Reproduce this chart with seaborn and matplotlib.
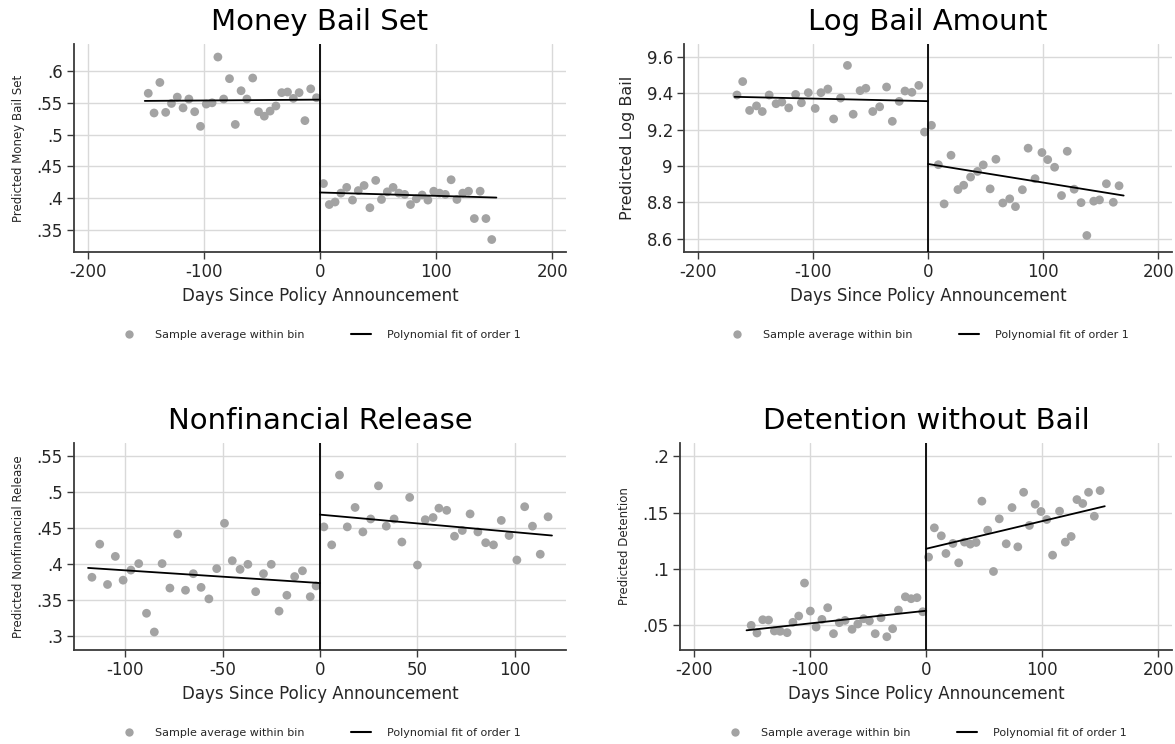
import numpy as np
import pandas as pd
import matplotlib
matplotlib.use("Agg")
import matplotlib.pyplot as plt
from matplotlib.lines import Line2D
import seaborn as sns

sns.set_theme(style="white")
plt.rcParams['font.family'] = ['DejaVu Sans']

# ---------------- data ----------------
# Panel 1: Money Bail Set
mb_x_left = [-148, -143, -138, -133, -128, -123, -118, -113, -108, -103, -98, -93, -88, -83, -78,
             -73, -68, -63, -58, -53, -48, -43, -38, -33, -28, -23, -18, -13, -8, -3]
mb_y_left = [.565, .534, .582, .535, .549, .559, .542, .556, .536, .513, .548, .550, .622, .556, .588,
             .516, .569, .556, .589, .536, .529, .537, .545, .566, .567, .557, .566, .522, .572, .558]
mb_x_right = [3, 8, 13, 18, 23, 28, 33, 38, 43, 48, 53, 58, 63, 68, 73,
              78, 83, 88, 93, 98, 103, 108, 113, 118, 123, 128, 133, 138, 143, 148]
mb_y_right = [.423, .390, .394, .408, .417, .397, .412, .420, .385, .428, .398, .410, .417, .408, .406,
              .390, .399, .405, .397, .411, .408, .406, .429, .398, .408, .411, .368, .411, .368, .335]
mb_fit_left_x = [-151, 0]
mb_fit_left_y = [.553, .555]
mb_fit_right_x = [0, 152]
mb_fit_right_y = [.409, .401]

# Panel 2: Log Bail Amount
lb_x_left = [-166, -161, -155, -149, -144, -138, -132, -127, -121, -115, -110, -104, -98, -93, -87,
             -82, -76, -70, -65, -59, -54, -48, -42, -36, -31, -25, -20, -14, -8, -3]
lb_y_left = [9.391, 9.465, 9.306, 9.331, 9.300, 9.391, 9.343, 9.352, 9.320, 9.394, 9.348, 9.404, 9.317, 9.404, 9.424,
             9.259, 9.374, 9.554, 9.285, 9.415, 9.428, 9.300, 9.326, 9.435, 9.246, 9.356, 9.413, 9.406, 9.444, 9.187]
lb_x_right = [3, 9, 14, 20, 26, 31, 37, 43, 48, 54, 59, 65, 71, 76, 82,
              87, 93, 99, 104, 110, 116, 121, 127, 133, 138, 144, 149, 155, 161, 166]
lb_y_right = [9.224, 9.007, 8.791, 9.059, 8.870, 8.894, 8.939, 8.970, 9.006, 8.874, 9.037, 8.796, 8.819, 8.776, 8.869,
              9.098, 8.930, 9.074, 9.035, 8.993, 8.837, 9.081, 8.872, 8.798, 8.617, 8.806, 8.813, 8.902, 8.800, 8.891]
lb_fit_left_x = [-168, 0]
lb_fit_left_y = [9.381, 9.357]
lb_fit_right_x = [0, 170]
lb_fit_right_y = [9.011, 8.837]

# Panel 3: Nonfinancial Release
nf_x_left = [-117, -113, -109, -105, -101, -97, -93, -89, -85, -81, -77, -73, -69, -65, -61,
             -57, -53, -49, -45, -41, -37, -33, -29, -25, -21, -17, -13, -9, -5, -2]
nf_y_left = [.382, .428, .372, .411, .378, .392, .401, .332, .306, .401, .367, .442, .364, .387, .368,
             .352, .394, .457, .405, .393, .400, .362, .387, .400, .335, .357, .383, .391, .355, .370]
nf_x_right = [2, 6, 10, 14, 18, 22, 26, 30, 34, 38, 42, 46, 50, 54, 58,
              61, 65, 69, 73, 77, 81, 85, 89, 93, 97, 101, 105, 109, 113, 117]
nf_y_right = [.452, .427, .524, .452, .479, .445, .463, .509, .453, .463, .431, .493, .399, .462, .465,
              .478, .475, .439, .447, .470, .445, .430, .427, .461, .440, .406, .480, .453, .414, .466]
nf_fit_left_x = [-119, 0]
nf_fit_left_y = [.395, .374]
nf_fit_right_x = [0, 119]
nf_fit_right_y = [.469, .440]

# Panel 4: Detention without Bail
dt_x_left = [-151, -146, -141, -136, -131, -126, -120, -115, -110, -105, -100, -95, -90, -85, -80,
             -75, -70, -64, -59, -54, -49, -44, -39, -34, -29, -24, -18, -13, -8, -3]
dt_y_left = [.0497, .0429, .0547, .0544, .0447, .0444, .0432, .0524, .0580, .0873, .0624, .0482, .0550, .0654, .0423,
             .0521, .0541, .0462, .0509, .0556, .0536, .0423, .0565, .0396, .0467, .0633, .0751, .0734, .0743, .0618]
dt_x_right = [2, 7, 13, 17, 23, 28, 33, 38, 43, 48, 53, 58, 63, 69, 74,
              79, 84, 89, 94, 99, 104, 109, 115, 120, 125, 130, 135, 140, 145, 150]
dt_y_right = [.1104, .1364, .1293, .1136, .1225, .1053, .1237, .1219, .1234, .1601, .1343, .0976, .1444, .1222, .1544,
              .1195, .1680, .1385, .1574, .1509, .1438, .1121, .1512, .1237, .1287, .1615, .1580, .1680, .1467, .1695]
dt_fit_left_x = [-155, 0]
dt_fit_left_y = [.0453, .0627]
dt_fit_right_x = [0, 154]
dt_fit_right_y = [.1178, .1556]

titles = ["Money Bail Set", "Log Bail Amount", "Nonfinancial Release", "Detention without Bail"]
ylabels = ["Predicted Money Bail Set", "Predicted Log Bail", "Predicted Nonfinancial Release", "Predicted Detention"]
ylabel_sizes = [8.5, 11.5, 8.5, 8.5]
xlabel = "Days Since Policy Announcement"
legend_labels = ["Sample average within bin", "Polynomial fit of order 1"]

xticks_list = [[-200, -100, 0, 100, 200], [-200, -100, 0, 100, 200],
               [-100, -50, 0, 50, 100], [-200, -100, 0, 100, 200]]
yticks_list = [[.35, .4, .45, .5, .55, .6], [8.6, 8.8, 9.0, 9.2, 9.4, 9.6],
               [.3, .35, .4, .45, .5, .55], [.05, .1, .15, .2]]
ytick_labels = [[".35", ".4", ".45", ".5", ".55", ".6"], ["8.6", "8.8", "9", "9.2", "9.4", "9.6"],
                [".3", ".35", ".4", ".45", ".5", ".55"], [".05", ".1", ".15", ".2"]]
xlims = [(-212, 212), (-212, 212), (-126.2, 126.2), (-212.4, 212)]
ylims = [(.3154, .6425), (8.526, 9.672), (.281, .5685), (.0278, .2118)]

panels = [
    (mb_x_left, mb_y_left, mb_x_right, mb_y_right, mb_fit_left_x, mb_fit_left_y, mb_fit_right_x, mb_fit_right_y),
    (lb_x_left, lb_y_left, lb_x_right, lb_y_right, lb_fit_left_x, lb_fit_left_y, lb_fit_right_x, lb_fit_right_y),
    (nf_x_left, nf_y_left, nf_x_right, nf_y_right, nf_fit_left_x, nf_fit_left_y, nf_fit_right_x, nf_fit_right_y),
    (dt_x_left, dt_y_left, dt_x_right, dt_y_right, dt_fit_left_x, dt_fit_left_y, dt_fit_right_x, dt_fit_right_y),
]

# ---------------- layout (pixels) ----------------
W, H = 1175, 744
boxes = [(74, 566, 44, 252), (684, 1172, 44, 252), (74, 566, 443, 650), (680, 1172, 443, 650)]
legend_y = [335, 335, 733, 733]

fig = plt.figure(figsize=(W / 100, H / 100), dpi=100)
fig.patch.set_facecolor("white")

dot_color = "#a3a3a3"
grid_color = "#d9d9d9"
spine_color = "#3a3a3a"

for i, (box, data) in enumerate(zip(boxes, panels)):
    l, r, t, b = box
    ax = fig.add_axes([l / W, 1 - b / H, (r - l) / W, (b - t) / H])
    xl, yl, xr, yr, fxl, fyl, fxr, fyr = data
    pts = pd.DataFrame({"x": list(xl) + list(xr), "y": list(yl) + list(yr)})
    sns.scatterplot(data=pts, x="x", y="y", ax=ax, color=dot_color, s=40,
                    edgecolor="none", linewidth=0, zorder=3)
    sns.lineplot(x=fxl, y=fyl, ax=ax, color="black", linewidth=1.3, zorder=4)
    sns.lineplot(x=fxr, y=fyr, ax=ax, color="black", linewidth=1.3, zorder=4)
    ax.axvline(0, color="black", linewidth=1.3, zorder=5)

    ax.set_xlim(*xlims[i])
    ax.set_ylim(*ylims[i])
    ax.set_xticks(xticks_list[i])
    ax.set_xticklabels([str(v) for v in xticks_list[i]])
    ax.set_yticks(yticks_list[i])
    ax.set_yticklabels(ytick_labels[i])
    ax.grid(True, color=grid_color, linewidth=1.0, zorder=0)
    ax.set_axisbelow(True)
    for s in ["top", "right"]:
        ax.spines[s].set_visible(False)
    for s in ["left", "bottom"]:
        ax.spines[s].set_color(spine_color)
        ax.spines[s].set_linewidth(1.3)
    ax.tick_params(axis="both", which="major", direction="out", length=5, width=1.0,
                   color=spine_color, labelsize=12, pad=3, bottom=True, left=True)
    ax.set_title(titles[i], fontsize=21, pad=10, color="black")
    ax.set_xlabel(xlabel, fontsize=12, labelpad=4)
    ax.set_ylabel(ylabels[i], fontsize=ylabel_sizes[i], labelpad=8)
    ax.set_facecolor("white")

    handles = [Line2D([], [], marker="o", linestyle="none", color=dot_color, markersize=6,
                      markeredgewidth=0),
               Line2D([], [], color="black", linewidth=1.5)]
    cx = ((l + r) / 2) / W
    fig.legend(handles, legend_labels, loc="center", bbox_to_anchor=(cx, 1 - legend_y[i] / H),
               ncol=2, frameon=False, fontsize=8, columnspacing=4.2, handlelength=1.8,
               handletextpad=1.4)

fig.savefig("out.png", dpi=100, facecolor="white")
